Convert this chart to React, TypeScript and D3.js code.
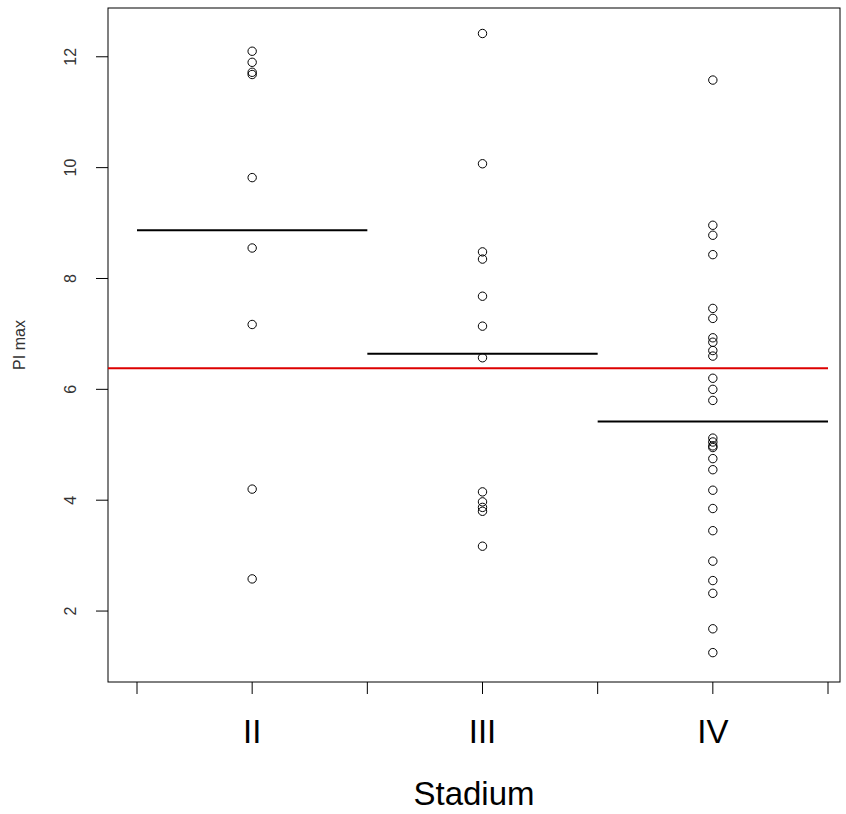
import React from 'react';
import * as d3 from 'd3';

const categories = ['II', 'III', 'IV'];
const seriesII = [12.1, 11.9, 11.72, 11.68, 9.82, 8.55, 7.17, 4.2, 2.58];
const seriesIII = [12.42, 10.07, 8.48, 8.35, 7.68, 7.14, 6.57, 4.15, 3.97, 3.87, 3.8, 3.17];
const seriesIV = [
  11.58, 8.96, 8.78, 8.43, 7.46, 7.28, 6.93, 6.85, 6.7, 6.6, 6.2, 6.0, 5.8, 5.12, 5.05, 4.98,
  4.95, 4.75, 4.55, 4.18, 3.85, 3.45, 2.9, 2.55, 2.32, 1.68, 1.25,
];
const groupMeans = [8.87, 6.64, 5.42];
const overallMean = 6.38;
const yTicks = [2, 4, 6, 8, 10, 12];

const W = 846;
const H = 814;
const L = 108;
const R = 840;
const T = 8;
const B = 682;

const App = () => {
  const series = [seriesII, seriesIII, seriesIV];
  const x = d3.scaleLinear().domain([0.5, 3.5]).range([137, 828]);
  const y = d3.scaleLinear().domain([0.72, 12.88]).range([B, T]);
  const font = 'Liberation Sans, Arial, sans-serif';

  return (
    <svg width={W} height={H} style={{ position: 'absolute', left: 0, top: 0 }}>
      <rect x={0} y={0} width={W} height={H} fill="#fff" />
      <rect x={L} y={T} width={R - L} height={B - T} fill="none" stroke="#000" />
      {yTicks.map((t) => (
        <g key={t}>
          <line x1={L - 12} x2={L} y1={y(t)} y2={y(t)} stroke="#000" />
          <text
            transform={`translate(${L - 38},${y(t)}) rotate(-90)`}
            textAnchor="middle"
            dy="0.35em"
            fontSize={16}
            fontFamily={font}
            fill="#333"
          >
            {t}
          </text>
        </g>
      ))}
      {[0.5, 1.5, 2.5, 3.5].map((t) => (
        <line key={t} x1={x(t)} x2={x(t)} y1={B} y2={B + 12} stroke="#000" />
      ))}
      {categories.map((c, i) => (
        <g key={c}>
          <line x1={x(i + 1)} x2={x(i + 1)} y1={B} y2={B + 12} stroke="#000" />
          <text x={x(i + 1)} y={743} textAnchor="middle" fontSize={33} fontFamily={font}>
            {c}
          </text>
        </g>
      ))}
      <text x={474} y={805} textAnchor="middle" fontSize={33} fontFamily={font}>
        Stadium
      </text>
      <text
        transform={`translate(25,${(T + B) / 2}) rotate(-90)`}
        textAnchor="middle"
        fontSize={16}
        fontFamily={font}
        fill="#333"
      >
        PI max
      </text>
      <line x1={L} x2={x(3.5)} y1={y(overallMean)} y2={y(overallMean)} stroke="#d00" strokeWidth={2} />
      {groupMeans.map((m, i) => (
        <line key={i} x1={x(i + 0.5)} x2={x(i + 1.5)} y1={y(m)} y2={y(m)} stroke="#000" strokeWidth={2} />
      ))}
      {series.map((s, i) =>
        s.map((v, j) => (
          <circle key={`${i}-${j}`} cx={x(i + 1)} cy={y(v)} r={4.2} fill="none" stroke="#000" strokeWidth={1} />
        ))
      )}
    </svg>
  );
};

export default App;
